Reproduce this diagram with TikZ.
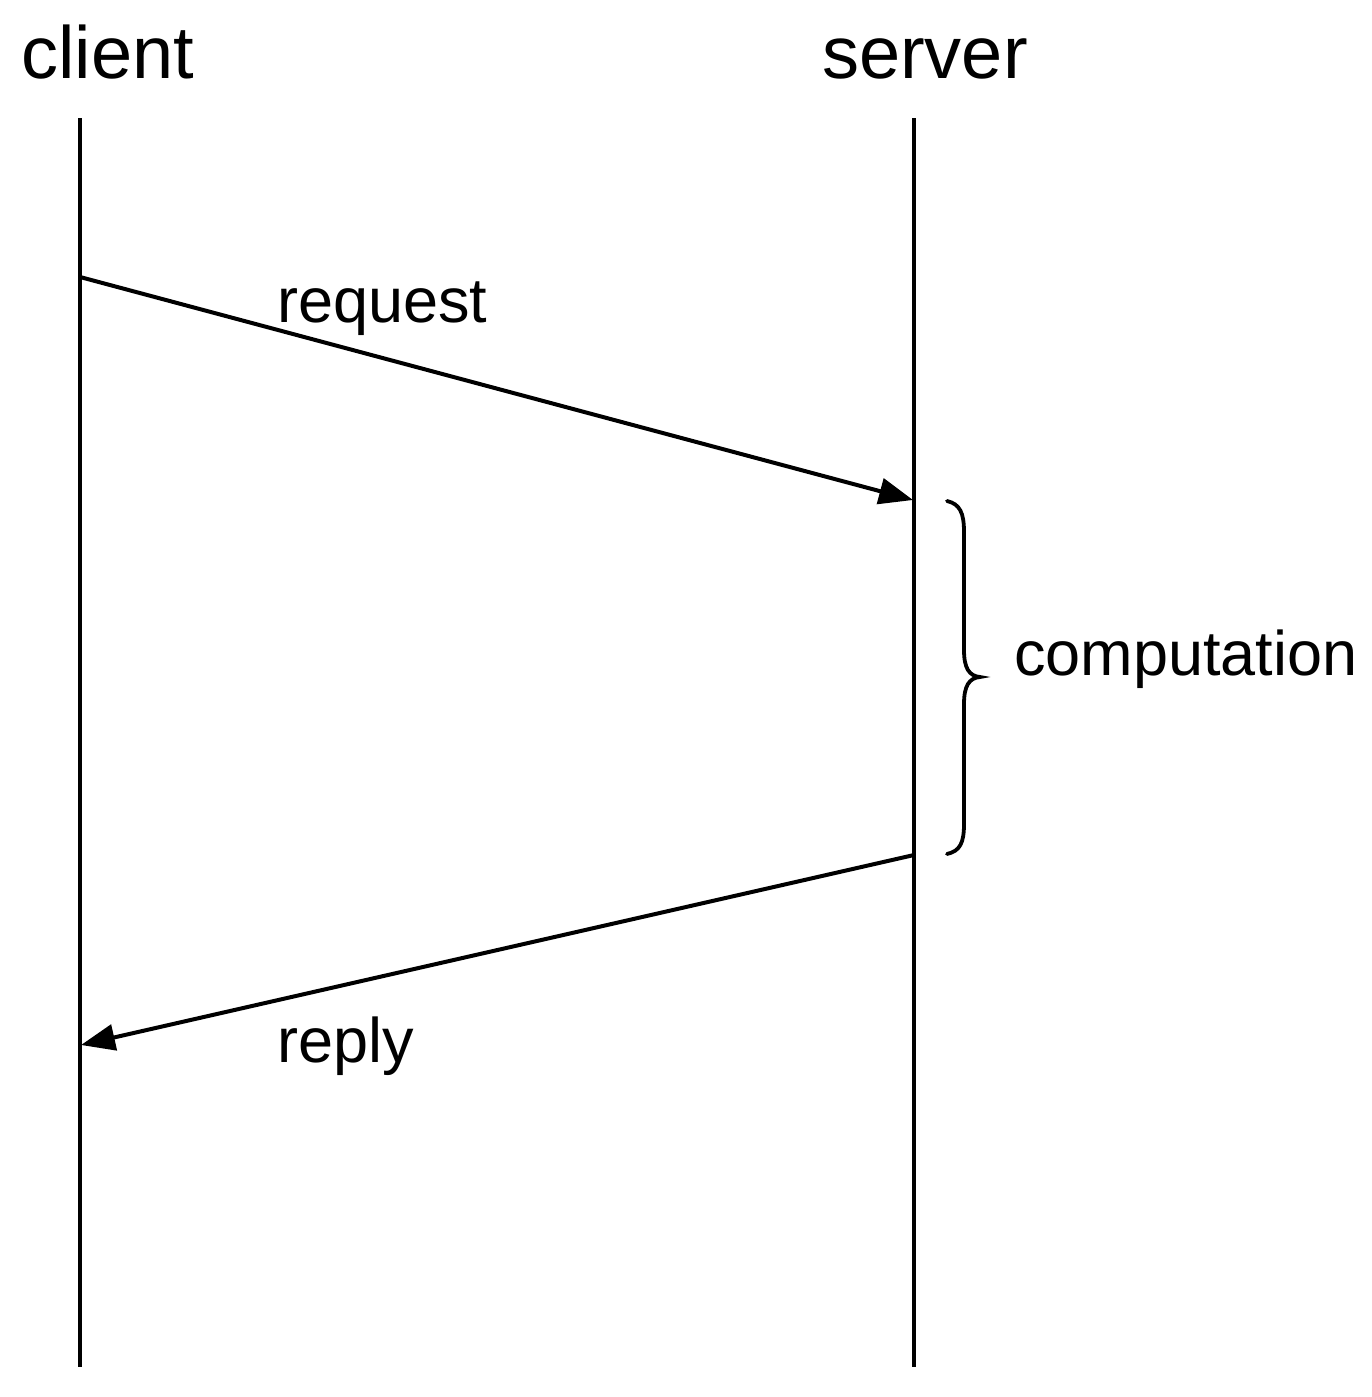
\documentclass[tikz,border=0pt]{standalone}
\usepackage{fontspec}
\setmainfont{Liberation Sans}
\usetikzlibrary{arrows.meta}

\begin{document}
\begin{tikzpicture}[x=1pt,y=-1pt,
    lifeline/.style={line width=4.2pt},
    message/.style={line width=4pt,-{Triangle[length=34pt,width=26pt]}},
    headlabel/.style={anchor=base west,inner sep=0pt,font=\fontsize{74}{80}\selectfont},
    msglabel/.style={anchor=base west,inner sep=0pt,font=\fontsize{63}{70}\selectfont},
    bracestroke/.style={line width=3.8pt,line cap=round}]
  \useasboundingbox (0,0) rectangle (1371,1397);

  % participants
  \node[headlabel] (client) at (21,78) {client};
  \node[headlabel] (server) at (822,78) {server};

  % lifelines
  \coordinate (ctop) at (80,118);
  \coordinate (cbot) at (80,1367);
  \coordinate (stop) at (914,118);
  \coordinate (sbot) at (914,1367);
  \draw[lifeline] (ctop) -- (cbot);
  \draw[lifeline] (stop) -- (sbot);

  % message end points
  \coordinate (reqfrom) at (80,277);
  \coordinate (reqto) at (913,500);
  \coordinate (repfrom) at (914,855);
  \coordinate (repto) at (81,1045);

  \draw[message] (reqfrom) -- (reqto);
  \draw[message] (repfrom) -- (repto);

  \node[msglabel] (request) at (277,322) {request};
  \node[msglabel] (reply) at (277,1062) {reply};

  % computation interval brace
  \draw[bracestroke] (947,501) .. controls (960,504) and (964,513) .. (964,532)
    -- (964,650) .. controls (964,668) and (969,676) .. (980,677)
    .. controls (969,678) and (964,686) .. (964,704)
    -- (964,824) .. controls (964,843) and (960,851) .. (947,854);
  \node[msglabel] (computation) at (1014,675) {computation};
\end{tikzpicture}
\end{document}
